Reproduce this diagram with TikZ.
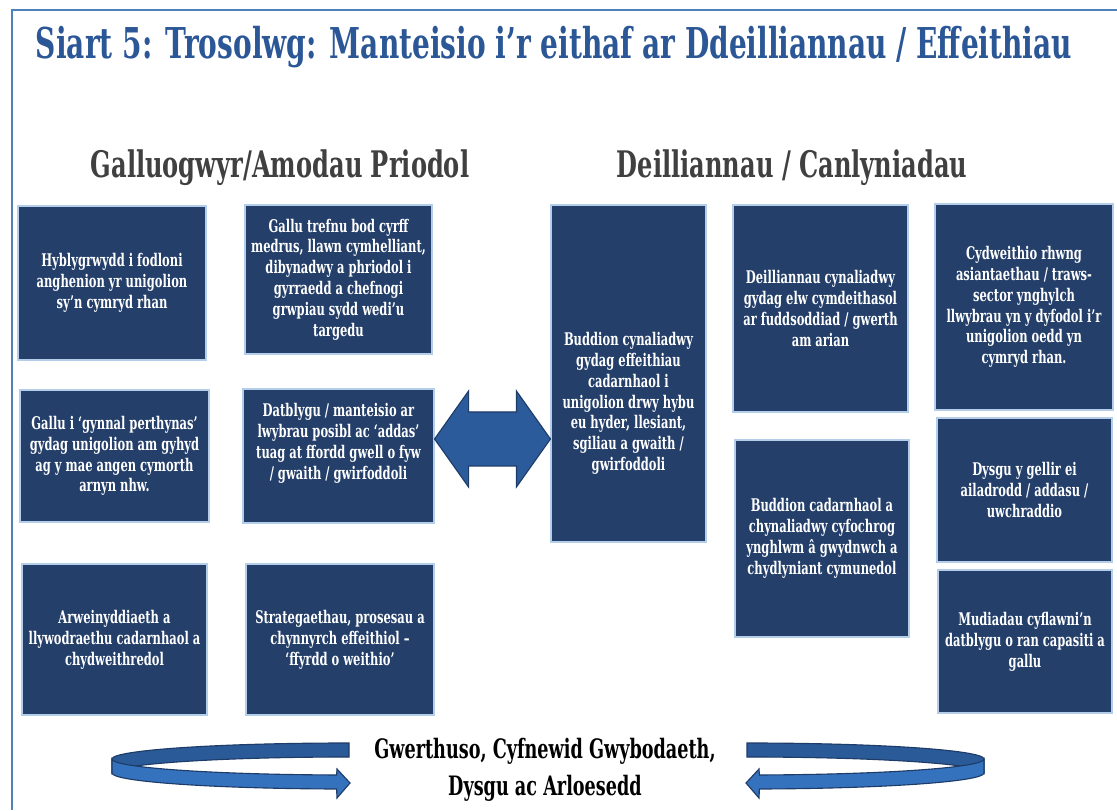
\documentclass[tikz,border=0pt]{standalone}
\usepackage{fontspec}
\setmainfont{DejaVu Serif}[FakeStretch=0.66]
\usepackage{tikz}
\usetikzlibrary{calc}

\definecolor{panelnavy}{HTML}{243F6A}
\definecolor{paneledge}{HTML}{B4CDE8}
\definecolor{titleblue}{HTML}{2B5797}
\definecolor{headgray}{HTML}{404040}
\definecolor{frameblue}{HTML}{4F81BD}
\definecolor{arrowblue}{HTML}{2B5B9B}
\definecolor{arrowedge}{HTML}{1E3C68}
\definecolor{ringback}{HTML}{2A5A98}
\definecolor{ringfront}{HTML}{3572BD}

\tikzset{
    panel/.style={draw=paneledge,line width=0.8pt,fill=panelnavy,text=white,align=center,inner sep=2pt,font=\bfseries\fontsize{12.4}{14.8}\selectfont},
    wh/.style 2 args={minimum width=#1*0.025cm,minimum height=#2*0.025cm},
    heading/.style={text=headgray,font=\bfseries\fontsize{26}{30}\selectfont},
    ring/.style={draw=arrowedge,line width=0.8pt}
}

\begin{document}
\begin{tikzpicture}[x=0.025cm,y=0.025cm]
        \useasboundingbox (0,0) rectangle (1117,810);
        \draw [frameblue,line width=1.4pt] (1117,800)--(12,800)--(12,0);
        \node [text=titleblue,font=\bfseries\fontsize{30.2}{35}\selectfont] (title) at(554,763) {Siart 5: Trosolwg: Manteisio i’r eithaf ar Ddeilliannau / Effeithiau};
        \node [heading] (galluog) at(280,642) {Galluogwyr/Amodau Priodol};
        \node [heading] (deill) at(792,642) {Deilliannau / Canlyniadau};

        \node [panel,wh={188}{154}] (hyb) at(112,527) {Hyblygrwydd i fodloni\\anghenion yr unigolion\\sy’n cymryd rhan};
        \node [panel,wh={187}{149}] (tref) at(338.5,530.5) {Gallu trefnu bod cyrff\\medrus, llawn cymhelliant,\\dibynadwy a phriodol i\\gyrraedd a chefnogi\\grwpiau sydd wedi’u\\targedu};
        \node [panel,wh={189}{132}] (pert) at(114.5,354) {Gallu i ‘gynnal perthynas’\\gydag unigolion am gyhyd\\ag y mae angen cymorth\\arnyn nhw.};
        \node [panel,wh={191}{134}] (datb) at(338.5,354) {Datblygu / manteisio ar\\lwybrau posibl ac ‘addas’\\tuag at ffordd gwell o fyw\\/ gwaith / gwirfoddoli\\[6pt]};
        \node [panel,wh={185}{151}] (arw) at(114.5,170.5) {Arweinyddiaeth a\\llywodraethu cadarnhaol a\\chydweithredol};
        \node [panel,wh={188}{151}] (strat) at(340,170.5) {Strategaethau, prosesau a\\chynnyrch effeithiol –\\‘ffyrdd o weithio’};

        \node [panel,wh={155}{337}] (budd) at(628.5,436.5) {};
        \node [panel,draw=none,fill=none] (buddtxt) at([yshift=-30*0.025cm]budd.center) {Buddion cynaliadwy\\gydag effeithiau\\cadarnhaol i\\unigolion drwy hybu\\eu hyder, llesiant,\\sgiliau a gwaith /\\gwirfoddoli};
        \node [panel,wh={175}{207}] (elw) at(820.5,501.5) {Deilliannau cynaliadwy\\gydag elw cymdeithasol\\ar fuddsoddiad / gwerth\\am arian};
        \node [panel,wh={174}{197}] (cadarn) at(822,271.5) {Buddion cadarnhaol a\\chynaliadwy cyfochrog\\ynghlwm â gwydnwch a\\chydlyniant cymunedol};
        \node [panel,wh={178}{206}] (cydw) at(1024,503) {Cydweithio rhwng\\asiantaethau / traws-\\sector ynghylch\\llwybrau yn y dyfodol i’r\\unigolion oedd yn\\cymryd rhan.};
        \node [panel,wh={175}{144}] (dysgu) at(1024.5,320) {Dysgu y gellir ei\\ailadrodd / addasu /\\uwchraddio};
        \node [panel,wh={174}{143}] (mud) at(1025,168.5) {Mudiadau cyflawni’n\\datblygu o ran capasiti a\\gallu};

        \coordinate (mid) at(493,371);
        \draw [fill=arrowblue,draw=arrowedge,line width=0.8pt] (datb.east |- mid)--++(34,48)--++(0,-21)--($(budd.west |- mid)+(-34,27)$)--++(0,21)--(budd.west |- mid)--++(-34,-48)--++(0,21)--($(datb.east |- mid)+(34,-27)$)--++(0,-21)--cycle;

        \foreach \sx/\cx in {1/349,-1/747}{
            \begin{scope}[shift={(\cx,0)},xscale=\sx]
                \draw [ring,fill=ringback] (0,67) arc[start angle=90,end angle=180,x radius=237,y radius=16]--++(0,-14) arc[start angle=180,end angle=90,x radius=237,y radius=16]--cycle;
                \draw [ring,fill=ringfront] (-237,51) arc[start angle=180,end angle=267,x radius=237,y radius=16]--(-12,41)--(1,27)--(-12,12)--(-12.4,21) arc[start angle=267,end angle=180,x radius=237,y radius=16]--cycle;
            \end{scope}
        }
        \node [align=center,font=\bfseries\fontsize{19}{26}\selectfont] (gwerth) at(545,40) {Gwerthuso, Cyfnewid Gwybodaeth,\\Dysgu ac Arloesedd};
    \end{tikzpicture}
\end{document}
